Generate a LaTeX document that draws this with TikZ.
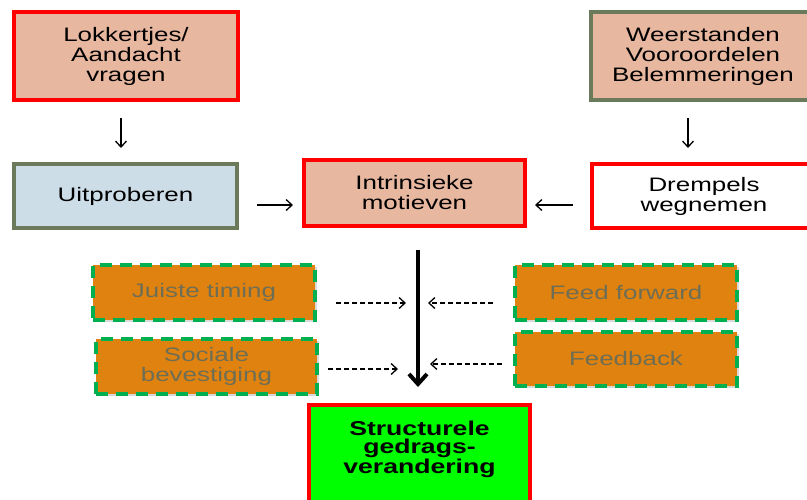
\documentclass[tikz,border=0pt]{standalone}
\usepackage{fontspec}
\setmainfont{Liberation Sans}[FakeStretch=1.33]
\usetikzlibrary{arrows.meta,shadows}
\definecolor{salmon}{HTML}{E8B7A0}
\definecolor{boxred}{HTML}{FF0000}
\definecolor{olivegray}{HTML}{6B7A5A}
\definecolor{lightblue}{HTML}{CCDDE8}
\definecolor{boxorange}{HTML}{E0820F}
\definecolor{dashgreen}{HTML}{00B050}
\definecolor{graytext}{HTML}{6E6E55}
\definecolor{brightgreen}{HTML}{00FF00}
\tikzset{
  basebox/.style={rectangle, align=center, inner sep=0pt, line width=4pt,
    font=\fontsize{19.5}{20}\selectfont,
    drop shadow={shadow xshift=2pt, shadow yshift=-2pt, opacity=0.3}},
  redbox/.style={basebox, draw=boxred, fill=salmon},
  olivebox/.style={basebox, draw=olivegray, fill=salmon},
  bluebox/.style={basebox, draw=olivegray, fill=lightblue},
  whitebox/.style={basebox, draw=boxred, fill=white},
  orangebox/.style={basebox, draw=dashgreen, fill=boxorange, text=graytext,
    dash pattern=on 12pt off 8pt},
  greenbox/.style={basebox, draw=boxred, fill=brightgreen},
  thinarrow/.style={line width=1.3pt, -{Straight Barb[length=6pt,width=11pt]}},
  dasharrow/.style={line width=1.3pt, dash pattern=on 5pt off 3pt,
    -{Straight Barb[length=6pt,width=11pt]}},
  mainarrow/.style={line width=4pt, -{Straight Barb[length=10pt,width=18pt]}}
}
\begin{document}
\begin{tikzpicture}[x=1pt,y=-1pt]
\useasboundingbox (0,0) rectangle (807,499);
\clip (0,0) rectangle (807,499);

\node[redbox, minimum width=224pt, minimum height=88pt] (lok) at (126,56)
  {Lokkertjes/\\Aandacht\\vragen};
\node[olivebox, minimum width=224pt, minimum height=88pt] (wee) at (703,56)
  {Weerstanden\\Vooroordelen\\Belemmeringen};
\node[bluebox, minimum width=223pt, minimum height=64pt] (uit) at (125.5,196)
  {Uitproberen};
\node[redbox, minimum width=221pt, minimum height=66pt] (intr) at (414.5,193)
  {Intrinsieke\\motieven};
\node[whitebox, minimum width=224pt, minimum height=64pt] (drem) at (704,196)
  {Drempels\\wegnemen};

\node[orangebox, minimum width=222pt, minimum height=55pt] (jt) at (204,292.5)
  {Juiste timing};
\node[orangebox, minimum width=221pt, minimum height=55pt] (soc) at (206.5,366.5)
  {Sociale\\bevestiging};
\node[orangebox, minimum width=222pt, minimum height=55pt] (ff) at (626,292.5)
  {Feed forward};
\node[orangebox, minimum width=222pt, minimum height=54pt] (fb) at (626,359)
  {Feedback};

\node[greenbox, minimum width=221pt, minimum height=100pt] (str) at (419.5,455) {};
\node[align=center, inner sep=0pt, font=\fontsize{20}{18.5}\selectfont\bfseries] (strtext) at (419.5,449)
  {Structurele\\gedrags-\\verandering};

\coordinate (axis) at (418,300);

\draw[thinarrow, shorten <=16pt, shorten >=14pt]
  ([xshift=-5pt]lok.south) -- ([xshift=-5pt]lok.south |- uit.north);
\draw[thinarrow, shorten <=16pt, shorten >=14pt]
  ([xshift=-15pt]wee.south) -- ([xshift=-15pt]wee.south |- drem.north);
\draw[thinarrow, shorten <=18pt, shorten >=9pt]
  ([yshift=-9pt]uit.east) -- ([yshift=-9pt]uit.east -| intr.west);
\draw[thinarrow, shorten <=17pt, shorten >=8pt]
  ([yshift=-9pt]drem.west) -- ([yshift=-9pt]drem.west -| intr.east);
\draw[mainarrow, shorten <=22pt, shorten >=16pt]
  (intr.south -| axis) -- (str.north -| axis);

\draw[dasharrow, shorten <=19pt, shorten >=12pt]
  ([yshift=-10.5pt]jt.east) -- ([yshift=-10.5pt]jt.east -| axis);
\draw[dasharrow, shorten <=9pt, shorten >=20pt]
  ([yshift=-2.5pt]soc.east) -- ([yshift=-2.5pt]soc.east -| axis);
\draw[dasharrow, shorten <=20pt, shorten >=10pt]
  ([yshift=-10.5pt]ff.west) -- ([yshift=-10.5pt]ff.west -| axis);
\draw[dasharrow, shorten <=11pt, shorten >=12pt]
  ([yshift=-5pt]fb.west) -- ([yshift=-5pt]fb.west -| axis);
\end{tikzpicture}
\end{document}
